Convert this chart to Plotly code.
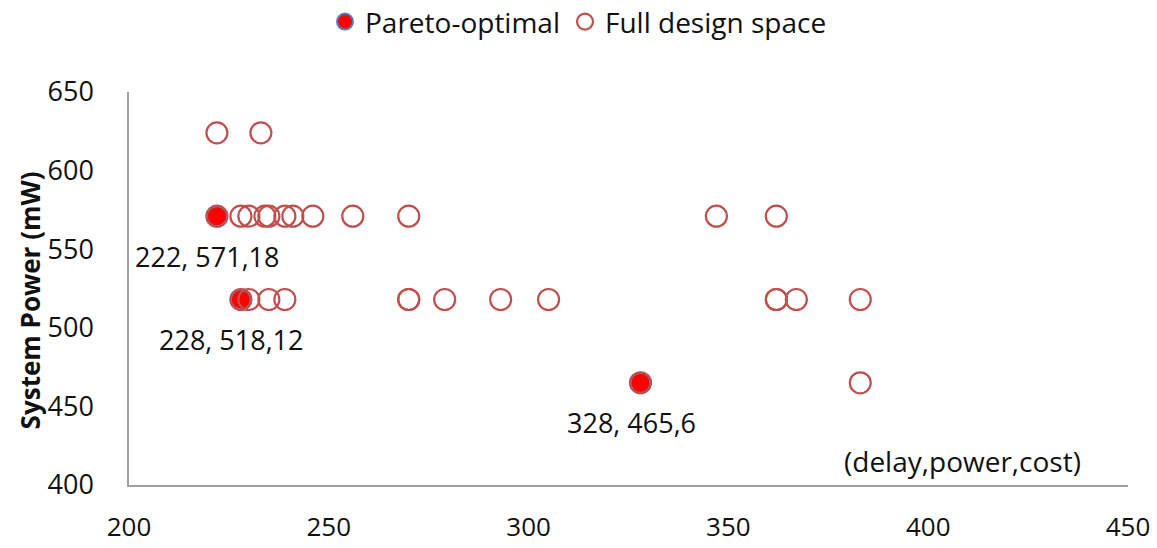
import plotly.graph_objects as go

# Full design space (delay, power)
full_delay = [222, 233,
              222, 228, 230, 234, 235, 239, 241, 246, 256, 270, 347, 362,
              228, 230, 235, 239, 270, 270, 279, 293, 305, 362, 362, 367, 383,
              328, 383]
full_power = [624, 624,
              571, 571, 571, 571, 571, 571, 571, 571, 571, 571, 571, 571,
              518, 518, 518, 518, 518, 518, 518, 518, 518, 518, 518, 518, 518,
              465, 465]

# Pareto-optimal designs
pareto_delay = [222, 228, 328]
pareto_power = [571, 518, 465]
pareto_cost = [18, 12, 6]

x_ticks = [200, 250, 300, 350, 400, 450]
y_ticks = [400, 450, 500, 550, 600, 650]

FONT = "Open Sans"
RED = "#C0504D"

fig = go.Figure()
fig.add_trace(go.Scatter(
    x=pareto_delay, y=pareto_power, mode="markers", name="Pareto-optimal",
    marker=dict(size=20, color="#FF0000", line=dict(color="#4F81BD", width=2)),
))
fig.add_trace(go.Scatter(
    x=full_delay, y=full_power, mode="markers", name="Full design space",
    marker=dict(size=21, color="rgba(0,0,0,0)", line=dict(color=RED, width=2.2)),
))

for d, p, c in zip(pareto_delay, pareto_power, pareto_cost):
    fig.add_annotation(x=d, y=p, text=f"{d}, {p},{c}", showarrow=False,
                       xshift=-9, yshift=-40,
                       font=dict(family=FONT, size=27, color="#111"))

fig.add_annotation(x=408.5, y=415, text="(delay,power,cost)", showarrow=False,
                   font=dict(family=FONT, size=28, color="#111"))

# y-axis title
fig.add_annotation(xref="paper", yref="paper", x=-0.099, y=0.47,
                   xanchor="center", yanchor="middle", textangle=-90,
                   text="<b>System Power (mW)</b>", showarrow=False,
                   font=dict(family=FONT, size=26, color="#111"))

fig.update_layout(
    width=1157, height=548,
    margin=dict(l=129, r=29, t=92, b=63),
    paper_bgcolor="white", plot_bgcolor="white",
    font=dict(family=FONT, size=26, color="#111"),
    showlegend=True,
    legend=dict(orientation="h", xref="container", yref="container",
                x=0.5, xanchor="center", y=0.96, yanchor="middle",
                font=dict(family=FONT, size=28, color="#111"),
                itemsizing="trace", bgcolor="rgba(0,0,0,0)"),
    xaxis=dict(range=[200, 450], tickvals=x_ticks, showgrid=False, zeroline=False,
               showline=True, linecolor="#A0A0A0", linewidth=1.5,
               ticks="", ticklabelstandoff=18, automargin=False,
               tickfont=dict(family=FONT, size=26, color="#111")),
    yaxis=dict(range=[400, 650], tickvals=y_ticks, showgrid=False, zeroline=False,
               showline=True, linecolor="#A0A0A0", linewidth=1.5,
               ticks="", ticklabelstandoff=28, automargin=False,
               tickfont=dict(family=FONT, size=27, color="#111")),
)

fig.write_html("out.html", config={"displayModeBar": False})

# remove the default page margin so the figure fills the window exactly
with open("out.html", "r", encoding="utf-8") as f:
    html = f.read()
html = html.replace("<head>", "<head><style>html,body{margin:0;padding:0;}</style>", 1)
with open("out.html", "w", encoding="utf-8") as f:
    f.write(html)
